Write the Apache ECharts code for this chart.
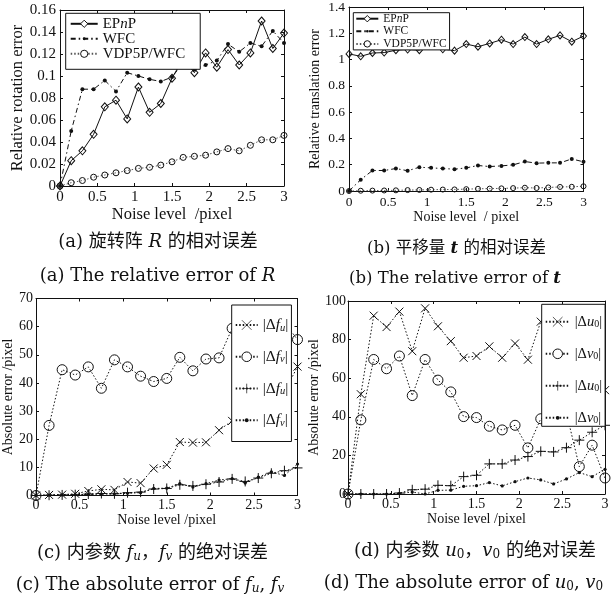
<!DOCTYPE html>
<html><head><meta charset="utf-8">
<script src="https://cdn.jsdelivr.net/npm/echarts@6/dist/echarts.min.js"></script>
<style>html,body{margin:0;padding:0;background:#fff}#c{width:613px;height:596px}</style>
</head><body><div id="c"></div>
<script>
// ---------------- data ----------------
const noise = [0,0.15,0.3,0.45,0.6,0.75,0.9,1.05,1.2,1.35,1.5,1.65,1.8,1.95,2.1,2.25,2.4,2.55,2.7,2.85,3.0];

// (a) relative rotation error
const rotEPnP = [0,0.023,0.032,0.047,0.072,0.078,0.061,0.090,0.067,0.075,0.098,0.116,0.103,0.121,0.108,0.124,0.110,0.121,0.150,0.125,0.139];
const rotWFC  = [0,0.050,0.088,0.088,0.096,0.086,0.103,0.100,0.097,0.095,0.099,0.112,0.106,0.110,0.114,0.129,0.122,0.130,0.127,0.141,0.130];
const rotVDP  = [0,0.003,0.005,0.008,0.010,0.012,0.014,0.016,0.017,0.019,0.022,0.026,0.027,0.028,0.031,0.034,0.032,0.037,0.042,0.042,0.046];

// (b) relative translation error
const trEPnP = [1.043,1.025,1.050,1.053,1.071,1.076,1.071,1.111,1.078,1.068,1.118,1.098,1.123,1.151,1.118,1.171,1.118,1.154,1.184,1.136,1.179];
const trWFC  = [0,0.086,0.156,0.156,0.171,0.154,0.181,0.176,0.171,0.166,0.176,0.194,0.186,0.191,0.199,0.224,0.212,0.214,0.214,0.244,0.222];
const trVDP  = [0,0.002,0.003,0.004,0.005,0.007,0.008,0.010,0.011,0.012,0.014,0.017,0.018,0.020,0.022,0.025,0.023,0.027,0.031,0.032,0.036];

// (c) absolute error of fu, fv
const fuA = [0,0.2,0.3,0.6,1.6,2.2,2.0,4.8,4.4,9.6,10.9,19.0,18.8,18.9,23.2,26.5,29,31,33,36.7,45.8];
const fvA = [0,24.9,44.7,42.8,45.7,38.1,48.2,45.7,42.4,40.5,41.6,49.1,44.3,48.5,48.9,59.4,62,58,64,61.5,55.4];
const fuB = [0,0.1,0.2,0.3,0.5,0.7,0.6,1.0,1.2,2.3,2.5,3.8,3.4,4.0,4.8,5.9,5.0,6.2,7.9,8.8,9.8];
const fvB = [0,0.1,0.2,0.3,0.4,0.5,0.6,0.8,1.0,2.5,2.6,4.2,3.0,4.2,5.5,6.0,4.4,6.5,8.4,7.1,11.2];

// (d) absolute error of u0, v0
const u0A = [0,51.7,92.4,86.5,94.5,74.0,96.2,86.9,79.2,70.6,71.5,76.5,70.6,78.0,69.6,89.3,88,85,82,80,53.8];
const v0A = [0,38.4,69.7,64.9,71.5,51.0,69.7,59.0,52.9,40.1,39.6,35.1,33.2,35.6,23.9,39.0,40,42,14.2,25.3,8.3];
const u0B = [0,0,0,0,0.5,2.2,2.5,4.5,4.3,9.0,9.7,15.6,15.6,17.6,19.4,22.1,21.8,24.0,27.9,32,35.6];
const v0B = [0,0,0,0,0.3,1.0,0,1.9,2.0,4.0,4.3,5.9,4.2,6.4,8.3,7.3,5.2,7.8,11.1,9.0,12.8];

const xTitles = ['Noise level  /pixel','Noise level  / pixel','Noise level /pixel','Noise level /pixel'];
const yTitles = ['Relative rotation error','Relative translation error','Absolute error /pixel','Absolute error /pixel'];

// ---------------- styling ----------------
const ink = '#111';
const SERIF = 'Liberation Serif';
const CAPF = "'DejaVu Serif','Noto Sans CJK SC'";

const panels = [
  {grid:{left:60,top:10,width:224,height:176}, yMax:0.16, yInt:0.02, fs:15, nfs:16.5, xGap:16, yGap:27, xMargin:4, yMargin:4},
  {grid:{left:349,top:6,width:234.5,height:185}, yMax:1.4, yInt:0.2, fs:13.5, nfs:14, xGap:17, yGap:27, xMargin:4, yMargin:4},
  {grid:{left:36,top:298.5,width:261.5,height:197}, yMax:70, yInt:10, fs:14, nfs:14, xGap:16, yGap:16, xMargin:3, yMargin:3},
  {grid:{left:348,top:301,width:257,height:193}, yMax:100, yInt:20, fs:14, nfs:14, xGap:15, yGap:21, xMargin:3, yMargin:2}
];

const xAxis = [], yAxis = [];
panels.forEach((p, gi) => {
  const line = {show:true, onZero:false, lineStyle:{color:ink, width:1}};
  const tick = {show:true, inside:true, length:3, lineStyle:{color:ink, width:1}};
  xAxis.push({type:'value', gridIndex:gi, min:0, max:3, interval:0.5, position:'bottom',
    name:xTitles[gi], nameLocation:'middle', nameGap:p.xGap,
    nameTextStyle:{fontFamily:SERIF, fontSize:p.nfs, color:ink},
    axisLine:line, axisTick:tick, splitLine:{show:false},
    axisLabel:{fontFamily:SERIF, fontSize:p.fs, color:ink, margin:p.xMargin}});
  xAxis.push({type:'value', gridIndex:gi, min:0, max:3, interval:0.5, position:'top',
    axisLine:line, axisTick:tick, splitLine:{show:false}, axisLabel:{show:false}});
  yAxis.push({type:'value', gridIndex:gi, min:0, max:p.yMax, interval:p.yInt, position:'left',
    name:yTitles[gi], nameLocation:'middle', nameGap:p.yGap,
    nameTextStyle:{fontFamily:SERIF, fontSize:p.nfs, color:ink},
    axisLine:line, axisTick:tick, splitLine:{show:false},
    axisLabel:{fontFamily:SERIF, fontSize:p.fs, color:ink, margin:p.yMargin}});
  yAxis.push({type:'value', gridIndex:gi, min:0, max:p.yMax, interval:p.yInt, position:'right',
    axisLine:line, axisTick:tick, splitLine:{show:false}, axisLabel:{show:false}});
});

const SYM_X = 'path://M0,0L10,10M10,0L0,10';
const SYM_P = 'path://M5,0L5,10M0,5L10,5';
// small dot inside a 10x10 box so that legend icons stay small
const SYM_DOT = 'path://M0,0M10,10M5,3A2,2,0,1,1,5,7A2,2,0,1,1,5,3Z';
const DOT = [1.5, 2];
const DASHDOT = [5, 3, 1.5, 3];

function mk(name, gi, ys, sym, size, dash, filled, lc) {
  return {
    type:'line', name, xAxisIndex:gi*2, yAxisIndex:gi*2,
    data: noise.map((x, i) => [x, ys[i]]),
    symbol:sym, symbolSize:size, showSymbol:true, animation:false, z:3,
    lineStyle:{color:lc || ink, width:1, type:dash},
    itemStyle: filled ? {color:ink, borderWidth:0}
                      : {color:'transparent', borderColor:ink, borderWidth:1},
    emphasis:{disabled:true}
  };
}

const series = [
  mk('EPnP_a', 0, rotEPnP, 'diamond', [7,8], 'solid', false),
  mk('WFC_a', 0, rotWFC, SYM_DOT, 10, DASHDOT, true),
  mk('VDP_a', 0, rotVDP, 'circle', 6, DOT, false, '#555'),
  mk('EPnP_b', 1, trEPnP, 'diamond', [6,7], 'solid', false),
  mk('WFC_b', 1, trWFC, SYM_DOT, 10, DASHDOT, true),
  mk('VDP_b', 1, trVDP, 'circle', 5, DOT, false, '#555'),
  mk('fuA', 2, fuA, SYM_X, 8, DOT, false),
  mk('fvA', 2, fvA, 'circle', 10, DOT, false),
  mk('fuB', 2, fuB, SYM_P, 10, DOT, false),
  mk('fvB', 2, fvB, SYM_DOT, 8, DOT, true),
  mk('u0A', 3, u0A, SYM_X, 8, DOT, false),
  mk('v0A', 3, v0A, 'circle', 10, DOT, false),
  mk('u0B', 3, u0B, SYM_P, 10, DOT, false),
  mk('v0B', 3, v0B, SYM_DOT, 8, DOT, true)
];

const labels = {
  EPnP_a:'{r|EP}{i|n}{r|P}', WFC_a:'{r|WFC}', VDP_a:'{r|VDP5P/WFC}',
  EPnP_b:'{r|EP}{i|n}{r|P}', WFC_b:'{r|WFC}', VDP_b:'{r|VDP5P/WFC}',
  fuA:'{r||Δ}{i|f}{s|u}{r||}', fvA:'{r||Δ}{i|f}{s|v}{r||}',
  fuB:'{r||Δ}{i|f}{s|u}{r||}', fvB:'{r||Δ}{i|f}{s|v}{r||}',
  u0A:'{r||Δ}{i|u}{s0|0}{r||}', v0A:'{r||Δ}{i|v}{s0|0}{r||}',
  u0B:'{r||Δ}{i|u}{s0|0}{r||}', v0B:'{r||Δ}{i|v}{s0|0}{r||}'
};

function richFor(fs, lh, subFs, subPad) {
  const base = {fontFamily:SERIF, fontSize:fs, color:ink, lineHeight:lh};
  return {
    r: Object.assign({}, base),
    i: Object.assign({}, base, {fontStyle:'italic'}),
    s: {fontFamily:SERIF, fontSize:subFs, fontStyle:'italic', color:ink, padding:[subPad,0,0,0]},
    s0:{fontFamily:SERIF, fontSize:subFs, color:ink, padding:[subPad,0,0,0]}
  };
}

const openItem = {color:'#fff', borderColor:ink, borderWidth:1};
const thinItem = {color:'transparent', borderColor:ink, borderWidth:0.7};
function legend(names, openNames, thinNames, left, top, opts) {
  return Object.assign({
    data:names.map(n => openNames.indexOf(n) >= 0 ? {name:n, itemStyle:openItem}
                      : thinNames.indexOf(n) >= 0 ? {name:n, itemStyle:thinItem} : n),
    orient:'vertical', left, top,
    backgroundColor:'#fff', borderColor:ink, borderWidth:1, borderRadius:0,
    selectedMode:false, z:10,
    formatter: n => labels[n]
  }, opts);
}

const legends = [
  legend(['EPnP_a','WFC_a','VDP_a'], ['EPnP_a','VDP_a'], [], 65.7, 13.3, {itemWidth:27, itemHeight:9, itemGap:0, padding:[3,15,8,4],
    textStyle:{fontFamily:SERIF, fontSize:15, lineHeight:13, color:ink, rich:richFor(15,13,10,5)}}),
  legend(['EPnP_b','WFC_b','VDP_b'], ['EPnP_b','VDP_b'], [], 353.3, 12.7, {itemWidth:22, itemHeight:8, itemGap:0.6, padding:[0,3,0,2],
    textStyle:{fontFamily:SERIF, fontSize:11.5, lineHeight:10.5, color:ink, rich:richFor(11.5,10.5,8,4)}}),
  legend(['fuA','fvA','fuB','fvB'], ['fvA'], ['fuA','fuB'], 231.7, 305, {itemWidth:22, itemHeight:12, itemGap:15.5, padding:[12,3,13,3],
    textStyle:{fontFamily:SERIF, fontSize:15.5, color:ink, rich:richFor(15.5,16,10.5,5.5)}}),
  legend(['u0A','v0A','u0B','v0B'], ['v0A'], ['u0A','u0B'], 541.7, 304.3, {itemWidth:24, itemHeight:12, itemGap:17, padding:[10,3,1,3],
    textStyle:{fontFamily:SERIF, fontSize:14.5, color:ink, rich:richFor(14.5,15,10,5)}})
];

// captions
function capRich(fs) {
  const sub = Math.round(fs * 0.68);
  return {
    i: {fontFamily:'DejaVu Serif', fontStyle:'italic', fontSize:fs, fill:ink},
    bi:{fontFamily:'DejaVu Serif', fontStyle:'italic', fontWeight:'bold', fontSize:fs, fill:ink},
    s: {fontFamily:'DejaVu Serif', fontStyle:'italic', fontSize:sub, fill:ink, padding:[Math.round(fs*0.45),0,0,0]},
    s0:{fontFamily:'DejaVu Serif', fontSize:sub, fill:ink, padding:[Math.round(fs*0.45),0,0,0]}
  };
}
function cap(text, x, y, fs) {
  return {type:'text', x, y, z:20, silent:true,
    style:{text, fontFamily:CAPF, fontSize:fs, fill:ink, align:'center', verticalAlign:'middle', rich:capRich(fs)}};
}
const captions = [
  cap('(a) 旋转阵 {i|R} 的相对误差', 158, 242.5, 18),
  cap('(a) The relative error of {i|R}', 157.5, 276, 18),
  cap('(b) 平移量 {bi|t} 的相对误差', 456.5, 248.7, 16.5),
  cap('(b) The relative error of {bi|t}', 455, 278.7, 16.5),
  cap('(c) 内参数 {i|f}{s|u}，{i|f}{s|v} 的绝对误差', 152.5, 553, 18),
  cap('(c) The absolute error of {i|f}{s|u}, {i|f}{s|v}', 150, 585, 18),
  cap('(d) 内参数 {i|u}{s0|0}，{i|v}{s0|0} 的绝对误差', 475, 551, 18),
  cap('(d) The absolute error of {i|u}{s0|0}, {i|v}{s0|0}', 463.5, 583, 18)
];

const chart = echarts.init(document.getElementById('c'), null, {renderer:'canvas'});
chart.setOption({
  animation:false,
  backgroundColor:'#fff',
  grid: panels.map(p => Object.assign({containLabel:false}, p.grid)),
  xAxis, yAxis, series, legend:legends, graphic:captions
});
</script></body></html>
